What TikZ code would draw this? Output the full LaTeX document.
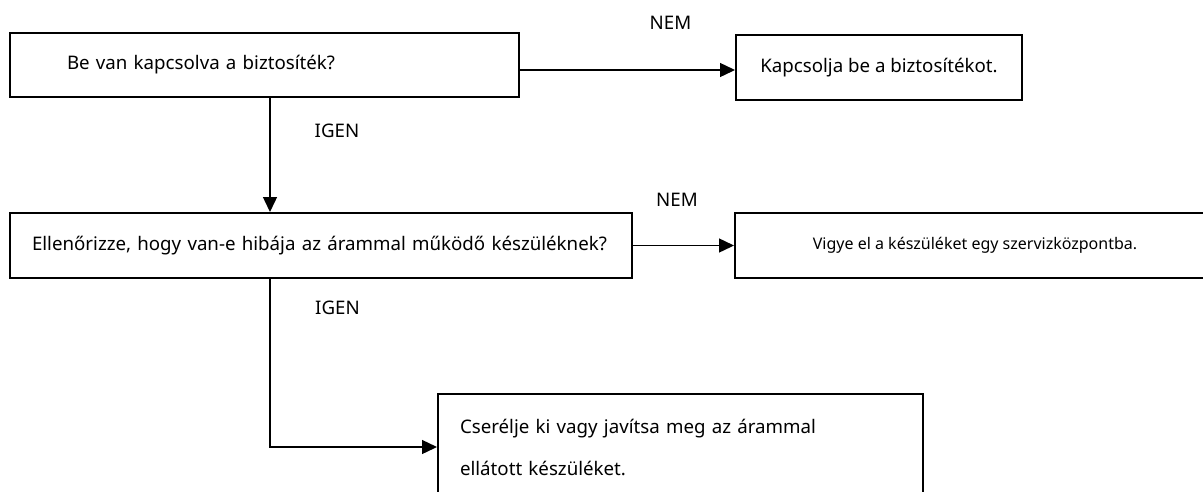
\documentclass[tikz,border=0pt]{standalone}
\usepackage{fontspec}
\setmainfont{Noto Sans}
\usetikzlibrary{arrows.meta,calc}
\tikzset{
  box/.style={draw=black, line width=2pt, rectangle, inner ysep=0pt,
    font=\fontsize{18.7pt}{22pt}\selectfont},
  lbl/.style={inner sep=0pt, font=\fontsize{18.7pt}{22pt}\selectfont},
  arr/.style={draw=black, line width=1.4pt, -{Triangle[length=15pt,width=14pt]}},
}
\begin{document}
\begin{tikzpicture}[x=1pt,y=-1pt]
\useasboundingbox (0,0) rectangle (1203,491);
\clip (0,0) rectangle (1203,491);
\fill[white] (0,0) rectangle (1203,491);
% boxes
\node[box, minimum height=64pt, inner xsep=57pt, text width=395pt, align=left]
  (b1) at (264.5,65) {\mbox{Be van kapcsolva a biztosíték?}};
\node[box, minimum width=286pt, minimum height=65pt]
  (b2) at (879,67.5) {Kapcsolja be a biztosítékot.};
\node[box, minimum height=65pt, inner xsep=22pt, text width=578pt, align=left]
  (b3) at (321,245.5) {\mbox{Ellenőrizze, hogy van-e hibája az árammal működő készüléknek?}};
\node[box, minimum width=480pt, minimum height=65pt, font=\fontsize{16pt}{19pt}\selectfont]
  (b4) at (975,245.5) {Vigye el a készüléket egy szervizközpontba.};
\node[box, minimum height=106pt, inner xsep=22pt, text width=441pt, align=left,
  font=\fontsize{18.7pt}{42pt}\selectfont]
  (b5) at (680.5,447) {Cserélje ki vagy javítsa meg az árammal\\ellátott készüléket.};
% labels
\node[lbl] (n1) at (670.5,23) {NEM};
\node[lbl] (i1) at (337,131) {IGEN};
\node[lbl] (n2) at (677,200) {NEM};
\node[lbl] (i2) at (337.5,308) {IGEN};
% connectors
\coordinate (vx) at (270,0);
\draw[arr] ([yshift=-5pt]b1.east) -- ([yshift=-5pt]b1.east -| b2.west);
\draw[arr] (vx |- b1.south) -- (vx |- b3.north);
\draw[arr] (b3.east) -- (b4.west);
\draw[arr] (vx |- b3.south) |- (b5.west);
\end{tikzpicture}
\end{document}
